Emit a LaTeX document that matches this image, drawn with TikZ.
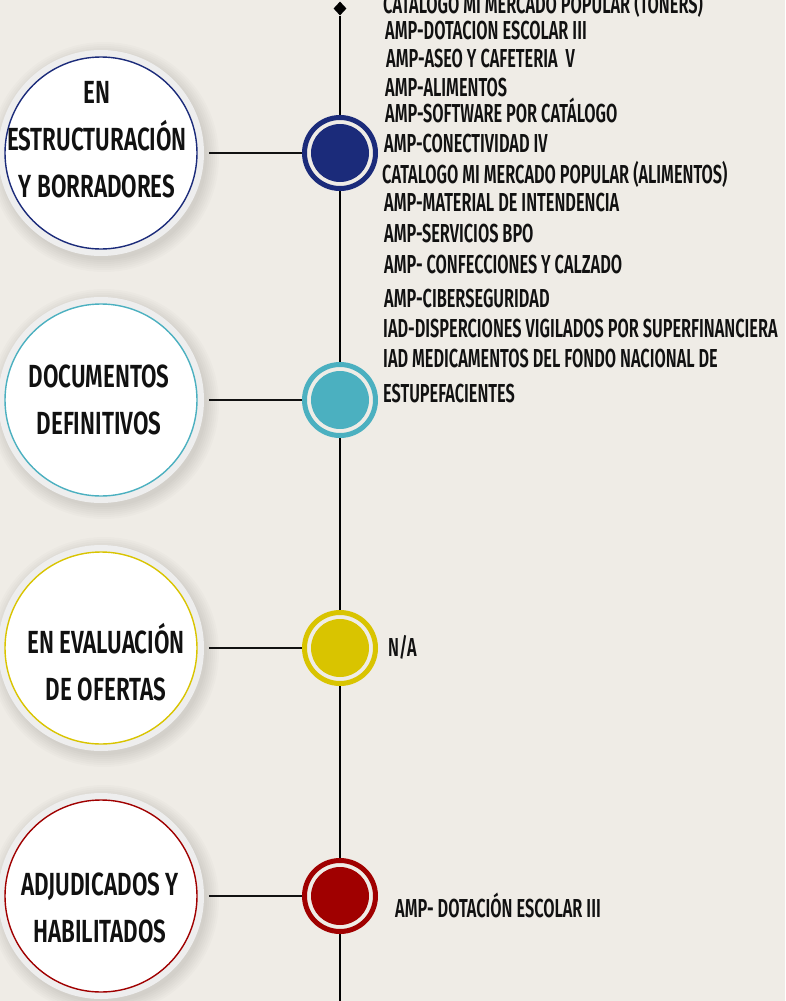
\documentclass[tikz,border=0pt]{standalone}
\usepackage{fontspec}
\newfontfamily\listfont{Fira Sans SemiBold}[FakeStretch=0.628]
\newfontfamily\circfont{Fira Sans SemiBold}[FakeStretch=0.70]
\usetikzlibrary{shapes.geometric}
\definecolor{bgc}{HTML}{EFECE6}
\definecolor{rimc}{HTML}{EEEEEE}
\definecolor{navyc}{HTML}{1B2B7A}
\definecolor{tealc}{HTML}{4BB0C0}
\definecolor{yellowc}{HTML}{D9C400}
\definecolor{redc}{HTML}{A00000}
\definecolor{inkc}{HTML}{111111}
\pgfdeclarelayer{bg}
\pgfsetlayers{bg,main}
\tikzset{
  bigc/.style={circle, minimum size=206, inner sep=0, outer sep=5, fill=rimc,
    path picture={\draw[draw=#1, line width=1.4, fill=white] (path picture bounding box.center) circle[radius=96];}},
  dotc/.style={circle, minimum size=71, inner sep=0, draw=#1, line width=5, fill=bgc,
    path picture={\fill[#1] (path picture bounding box.center) circle[radius=29];}},
  ctext/.style={align=center, inner sep=0, text=inkc, font=\circfont\fontsize{32}{47}\selectfont},
  ltext/.style={anchor=base west, inner sep=0, text=inkc, font=\listfont\fontsize{26}{26}\selectfont},
  link/.style={line width=2.2, draw=inkc},
}
\begin{document}
\begin{tikzpicture}[x=1pt,y=-1pt]
\begin{pgfonlayer}{bg}
\fill[bgc] (0,0) rectangle (785,1001);
\end{pgfonlayer}
\useasboundingbox (0,0) rectangle (785,1001);

% timeline
\node[diamond, fill=black, inner sep=0, minimum width=13, minimum height=14] (top) at (340,8.5) {};
\coordinate (bot) at (340,1001);
\draw[line width=2.4, draw=black] (top) -- (bot);

% big circles
\node[bigc=navyc] (b1) at (101,153) {};
\node[bigc=tealc] (b2) at (101,400) {};
\node[bigc=yellowc] (b3) at (101,648) {};
\node[bigc=redc] (b4) at (101,896) {};

\begin{pgfonlayer}{bg}
\foreach \n in {b1,b2,b3,b4}{
  \foreach \r in {103,105,...,115}{
    \fill[black, opacity=0.015] ([shift={(3,4)}]\n.center) circle[radius=\r];
  }
}
\end{pgfonlayer}

% markers
\node[dotc=navyc] (s1) at (340,153) {};
\node[dotc=tealc] (s2) at (340,400) {};
\node[dotc=yellowc] (s3) at (340,648) {};
\node[dotc=redc] (s4) at (340,896) {};

\draw[link] (b1) -- (s1);
\draw[link] (b2) -- (s2);
\draw[link] (b3) -- (s3);
\draw[link] (b4) -- (s4);

% circle texts
\node[ctext] (c1) at (97,140) {EN\\ESTRUCTURACIÓN\\Y BORRADORES};
\node[ctext] (c2) at (99,400) {DOCUMENTOS\\DEFINITIVOS};
\node[ctext] (c3) at (106,662) {EN EVALUACIÓN\\DE OFERTAS};
\node[ctext] (c4) at (100,908) {ADJUDICADOS Y\\HABILITADOS};

% list
\node[ltext] (t1) at (383,13) {CATALOGO MI MERCADO POPULAR (TONERS)};
\node[ltext] (t2) at (385,39) {AMP-DOTACION ESCOLAR III};
\node[ltext] (t3) at (386,67) {AMP-ASEO Y CAFETERIA\ \ V};
\node[ltext] (t4) at (385,96) {AMP-ALIMENTOS};
\node[ltext] (t5) at (385,122) {AMP-SOFTWARE POR CATÁLOGO};
\node[ltext] (t6) at (384,152) {AMP-CONECTIVIDAD IV};
\node[ltext] (t7) at (382,183) {CATALOGO MI MERCADO POPULAR (ALIMENTOS)};
\node[ltext] (t8) at (384,211) {AMP-MATERIAL DE INTENDENCIA};
\node[ltext] (t9) at (384,242) {AMP-SERVICIOS BPO};
\node[ltext] (t10) at (384,273) {AMP- CONFECCIONES Y CALZADO};
\node[ltext] (t11) at (384,307) {AMP-CIBERSEGURIDAD};
\node[ltext] (t12) at (383,337) {IAD-DISPERCIONES VIGILADOS POR SUPERFINANCIERA};
\node[ltext] (t13) at (383,367) {IAD MEDICAMENTOS DEL FONDO NACIONAL DE};
\node[ltext] (t14) at (383,402) {ESTUPEFACIENTES};
\node[ltext] (t15) at (388,656) {N/A};
\node[ltext] (t16) at (395,917) {AMP- DOTACIÓN ESCOLAR III};
\end{tikzpicture}
\end{document}
